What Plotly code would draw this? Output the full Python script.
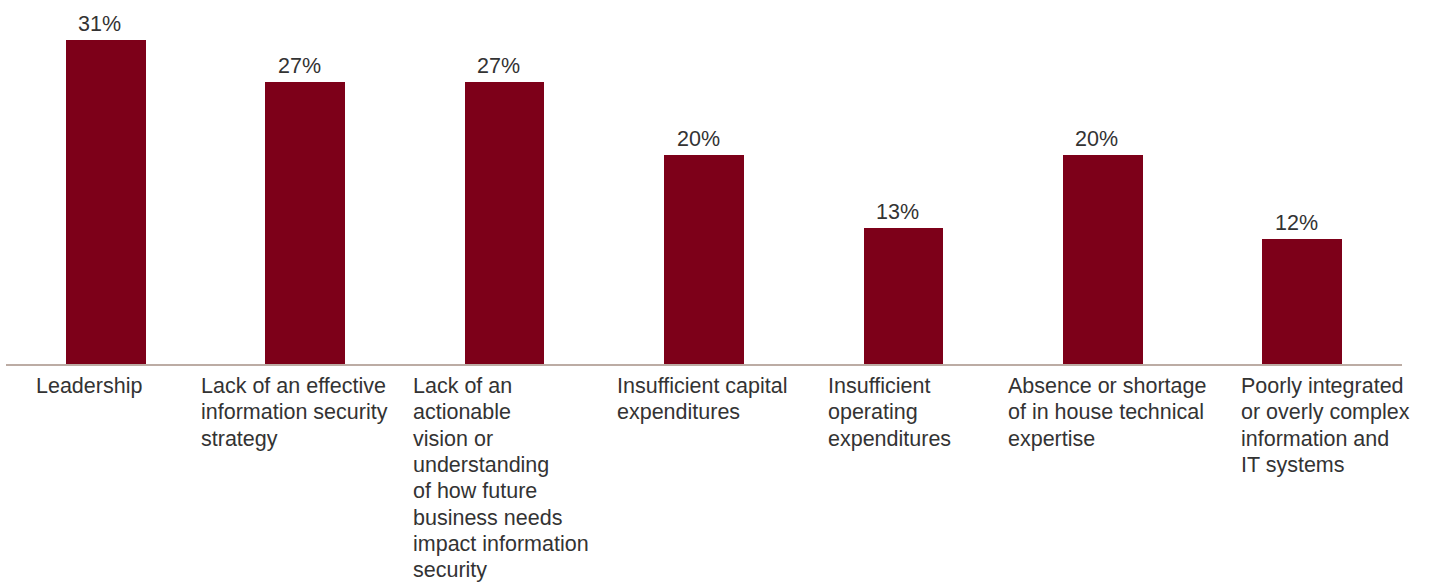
import plotly.graph_objects as go

# Survey results: share of respondents naming each obstacle
categories = [
    "Leadership",
    "Lack of an effective<br>information security<br>strategy",
    "Lack of an<br>actionable<br>vision or<br>understanding<br>of how future<br>business needs<br>impact information<br>security",
    "Insufficient capital<br>expenditures",
    "Insufficient<br>operating<br>expenditures",
    "Absence or shortage<br>of in house technical<br>expertise",
    "Poorly integrated<br>or overly complex<br>information and<br>IT systems",
]
values = [31, 27, 27, 20, 13, 20, 12]

# Horizontal pixel offsets of each category label's left edge from its bar centre
label_shifts = [-72, -106, -94, -89, -77, -97, -63]

BAR_COLOR = "#7d0019"
TEXT_COLOR = "#333333"
FONT = "Liberation Sans, Arial, Helvetica, sans-serif"
FONT_SIZE = 21.5
LINE_STEP = 26.3  # pixel distance between wrapped label lines

xs = list(range(len(values)))

fig = go.Figure(
    go.Bar(
        x=xs,
        y=values,
        width=0.4,
        marker=dict(color=BAR_COLOR, line=dict(width=0)),
        hoverinfo="skip",
    )
)

annotations = []
for i, v in enumerate(values):
    annotations.append(
        dict(
            x=i, y=v, xref="x", yref="y",
            text=f"{v}%", showarrow=False,
            xanchor="center", yanchor="bottom",
            xshift=-6, yshift=2,
            font=dict(family=FONT, size=FONT_SIZE, color=TEXT_COLOR),
        )
    )
# Category labels: each wrapped line placed separately for tighter leading
for i, (label, shift) in enumerate(zip(categories, label_shifts)):
    for k, line in enumerate(label.split("<br>")):
        annotations.append(
            dict(
                x=i, y=0, xref="x", yref="y",
                text=line, showarrow=False,
                xanchor="left", yanchor="top", align="left",
                xshift=shift, yshift=-8 - k * LINE_STEP,
                font=dict(family=FONT, size=FONT_SIZE, color=TEXT_COLOR),
            )
        )

fig.update_layout(
    width=1432,
    height=583,
    margin=dict(l=6, r=30, t=0, b=219),
    paper_bgcolor="white",
    plot_bgcolor="white",
    showlegend=False,
    bargap=0,
    annotations=annotations,
    xaxis=dict(
        range=[-0.5, 6.5],
        showgrid=False,
        zeroline=False,
        showticklabels=False,
        ticks="",
        showline=True,
        linecolor="#bcaca4",
        linewidth=1.5,
        fixedrange=True,
    ),
    yaxis=dict(
        range=[0, 34.83],
        visible=False,
        fixedrange=True,
    ),
)

fig.write_html("out.html", config={"displayModeBar": False})
